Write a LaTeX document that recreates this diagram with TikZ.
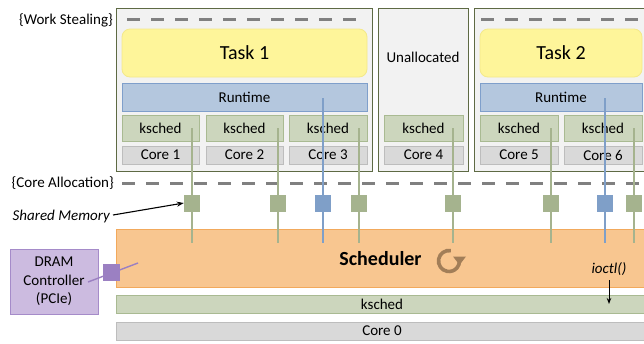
\documentclass[tikz,border=0pt]{standalone}
\usepackage{fontspec}
\setmainfont{Carlito}
\usetikzlibrary{arrows.meta}

\definecolor{panelfill}{HTML}{F2F2F2}
\definecolor{panelline}{HTML}{5E6A44}
\definecolor{taskfill}{HTML}{FEF59A}
\definecolor{taskline}{HTML}{F3E98A}
\definecolor{rtfill}{HTML}{B4C7DE}
\definecolor{rtline}{HTML}{7F9FCB}
\definecolor{ksfill}{HTML}{CCD6BD}
\definecolor{ksline}{HTML}{A9BA92}
\definecolor{corefill}{HTML}{D9D9D9}
\definecolor{coreline}{HTML}{BDBDBD}
\definecolor{schedfill}{HTML}{F8C690}
\definecolor{schedline}{HTML}{F2A95C}
\definecolor{dramfill}{HTML}{CCBBE0}
\definecolor{dramline}{HTML}{A58BC9}
\definecolor{memgreen}{HTML}{A5B38E}
\definecolor{memblue}{HTML}{7F9FC8}
\definecolor{mempurple}{HTML}{9B80C2}
\definecolor{dashgray}{HTML}{808080}
\definecolor{iconbrown}{HTML}{A27E58}

\tikzset{
  base/.style={anchor=north west, inner sep=0pt, outer sep=0pt, line width=0.8pt,
    font=\fontsize{15}{18}\selectfont},
  panel/.style={base, fill=panelfill, draw=panelline, line width=1pt},
  taskbox/.style={base, fill=taskfill, draw=taskline, rounded corners=8pt,
    minimum height=48pt, font=\fontsize{20}{24}\selectfont},
  rtbox/.style={base, fill=rtfill, draw=rtline, minimum height=28pt},
  ksbox/.style={base, fill=ksfill, draw=ksline, minimum height=26pt},
  corebox/.style={base, fill=corefill, draw=coreline, minimum height=18pt},
  label/.style={inner sep=0pt, font=\fontsize{15}{18}\selectfont},
  sepline/.style={draw=dashgray, line width=3pt, dash pattern=on 13pt off 11pt},
  linkgreen/.style={draw=memgreen, line width=1.4pt},
  linkblue/.style={draw=memblue, line width=1.4pt},
  memsq/.style={inner sep=0pt, minimum width=16pt, minimum height=17pt},
  pointer/.style={-{Stealth[length=7pt,width=5pt]}, line width=1.1pt, black}
}

\begin{document}
\begin{tikzpicture}[x=1pt, y=-1pt]
\clip (0,0) rectangle (644,343);

% ---- task panels ----
\node[panel, minimum width=256pt, minimum height=163pt] (p1) at (116,8) {};
\node[panel, minimum width=90pt, minimum height=163pt] (p2) at (378,8) {};
\node[panel, minimum width=180pt, minimum height=163pt] (p3) at (474,8) {};

% work stealing separators inside the task panels
\draw[sepline] (127,19.5) -- (360,19.5);
\draw[sepline] (481,19.5) -- (660,19.5);
\node[label, anchor=east] (ws) at (113,20) {\{Work Stealing\}};

\node[taskbox, minimum width=245pt] (task1) at (122,29) {Task 1};
\node[taskbox, minimum width=162pt] (task2) at (480,29) {Task 2};
\node[label] (unalloc) at (423,57) {Unallocated};

\node[rtbox, minimum width=245pt] (rt1) at (122,83) {Runtime};
\node[rtbox, minimum width=162pt] (rt2) at (480,83) {Runtime};

\node[ksbox, minimum width=77pt] (ks1) at (122,115) {ksched};
\node[ksbox, minimum width=77pt] (ks2) at (206,115) {ksched};
\node[ksbox, minimum width=78pt] (ks3) at (289,115) {ksched};
\node[ksbox, minimum width=79pt] (ks4) at (384,115) {ksched};
\node[ksbox, minimum width=78pt] (ks5) at (480,115) {ksched};
\node[ksbox, minimum width=78pt] (ks6) at (564,115) {ksched};

\node[corebox, minimum width=77pt] (c1) at (122,146) {Core 1};
\node[corebox, minimum width=77pt] (c2) at (206,146) {Core 2};
\node[corebox, minimum width=78pt] (c3) at (289,146) {Core 3};
\node[corebox, minimum width=79pt] (c4) at (384,146) {Core 4};
\node[corebox, minimum width=78pt] (c5) at (480,146) {Core 5};
\node[corebox, minimum width=78pt] (c6) at (564,146) {Core 6};

% core allocation separator
\draw[sepline] (122,183) -- (660,183);
\node[label, anchor=east] (ca) at (114,183) {\{Core Allocation\}};

% ---- host side ----
\node[base, fill=schedfill, draw=schedline, minimum width=540pt, minimum height=58pt] (sched) at (116,229) {};
\node[inner sep=0pt, font=\fontsize{20}{24}\selectfont\bfseries] (schedtxt) at (380.5,259) {Scheduler};
\node[base, fill=ksfill, draw=ksline, minimum width=540pt, minimum height=18pt] (ks0) at (116,295) {};
\node[label] (ks0txt) at (382,304) {ksched};
\node[base, fill=corefill, draw=coreline, minimum width=540pt, minimum height=18pt] (c0) at (116,322) {};
\node[label] (c0txt) at (382,331) {Core 0};

\node[base, fill=dramfill, draw=dramline, minimum width=88pt, minimum height=65pt,
  align=center, font=\fontsize{15}{18.5}\selectfont] (dram) at (10,249) {DRAM\\Controller\\(PCIe)};

% scheduler loop icon
\draw[iconbrown, line width=3.6pt] (449,261) ++(-80:10.5) arc[start angle=-80, end angle=-360, radius=10.5];
\fill[iconbrown] (453,256.5) -- (466,256.5) -- (459.5,265) -- cycle;

% ---- shared memory links ----
\foreach \x/\y/\s/\n in {192/128/linkgreen/1, 278/128/linkgreen/2, 323/98/linkblue/3, 359/128/linkgreen/4,
                         453/128/linkgreen/5, 551/128/linkgreen/6, 605/98/linkblue/7, 634/128/linkgreen/8}{
  \coordinate (top\n) at (\x,\y);
  \coordinate (bot\n) at (\x,243);
  \draw[\s] (top\n) -- (bot\n);
}
\foreach \x/\c/\n in {192/memgreen/1, 278/memgreen/2, 323/memblue/3, 359/memgreen/4,
                      453/memgreen/5, 551/memgreen/6, 605/memblue/7, 634/memgreen/8}{
  \node[memsq, fill=\c] (sq\n) at (\x,203) {};
}

% DRAM link
\coordinate (da) at (88,282);
\coordinate (db) at (138,263);
\draw[draw=mempurple, line width=1.4pt] (da) -- (db);
\node[memsq, minimum width=17pt, fill=mempurple] (sqd) at (111.5,272.5) {};

% annotations
\node[label, anchor=east, font=\fontsize{15}{18}\selectfont\itshape] (shm) at (110,216) {Shared Memory};
\coordinate (shmstart) at (113,215);
\draw[pointer] (shmstart) -- (sq1.west);

\node[label, font=\fontsize{15}{18}\selectfont\itshape] (ioctl) at (609,269) {ioctl()};
\coordinate (ioctlstart) at (609,280);
\coordinate (ioctlend) at (609,304);
\draw[-{Stealth[length=6pt,width=4.5pt]}, line width=1pt] (ioctlstart) -- (ioctlend);
\end{tikzpicture}
\end{document}
